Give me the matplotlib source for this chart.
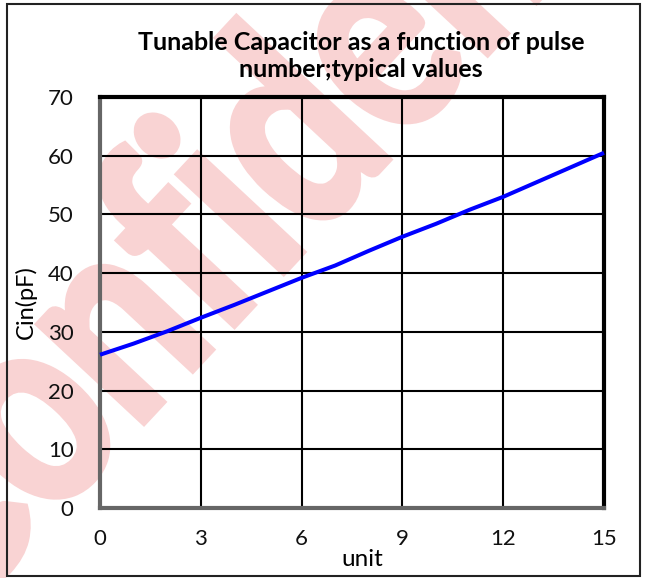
# -*- coding: utf-8 -*-
"""
Tunable capacitor vs pulse number, typical values.
"""

import matplotlib
matplotlib.use("Agg")
import matplotlib.pyplot as plt
from matplotlib.patches import Rectangle, PathPatch
from matplotlib.textpath import TextPath
from matplotlib.font_manager import FontProperties
from matplotlib.transforms import Affine2D, IdentityTransform

# data
pulse = [0, 1, 2, 3, 4, 5, 6, 7, 8, 9, 10, 11, 12, 13, 14, 15]
cin_pf = [26.1, 28.0, 30.1, 32.4, 34.6, 36.9, 39.2, 41.3, 43.8, 46.2,
          48.4, 50.8, 53.0, 55.5, 58.0, 60.5]
xticks = [0, 3, 6, 9, 12, 15]
yticks = [0, 10, 20, 30, 40, 50, 60, 70]

title = "Tunable Capacitor as a function of pulse\nnumber;typical values"
watermark = "Confidential"

plt.rcParams["font.family"] = ["Lato", "DejaVu Sans"]

fig = plt.figure(figsize=(6.47, 5.78), dpi=100)
ax = fig.add_axes([100/647, 1-508/578, 504/647, 411/578])
ax.patch.set_alpha(0)

# faint watermark behind everything (squeezed a bit, like a narrow bold face)
wm_col = "#f9d3d3"
tp = TextPath((0, 0), watermark, size=280,
              prop=FontProperties(family="Lato", weight="bold"))
ext = tp.get_extents()
cx, cy = (ext.x0 + ext.x1) / 2, (ext.y0 + ext.y1) / 2
tr = Affine2D().translate(-cx, -cy).scale(0.79, 1).rotate_deg(47).translate(283, 578 - 122)
fig.patches.append(PathPatch(tr.transform_path(tp), transform=IdentityTransform(),
                             fc=wm_col, ec=wm_col, lw=5, zorder=-1))

ax.plot(pulse, cin_pf, color="#0000ff", lw=2.9, zorder=3, clip_on=False,
        solid_capstyle="butt")

ax.set_xlim(0, 15)
ax.set_ylim(0, 70)
ax.set_xticks(xticks)
ax.set_yticks(yticks)
ax.grid(True, color="black", lw=1.5)
ax.set_axisbelow(True)
ax.tick_params(length=0, labelsize=16, colors="#111111")
ax.tick_params(axis="x", pad=15)
ax.tick_params(axis="y", pad=19)

for s in ["top", "right"]:
    ax.spines[s].set_linewidth(3)
    ax.spines[s].set_color("black")
for s in ["left", "bottom"]:
    ax.spines[s].set_linewidth(3)
    ax.spines[s].set_color("#666666")

ax.set_xlabel("unit", fontsize=17.5, va="center")
ax.xaxis.set_label_coords(0.52, -0.126)
ax.set_ylabel("Cin(pF)", fontsize=17, va="center")
ax.yaxis.set_label_coords(-0.147, 0.5)

fig.text(361/647, 1-56/578, title, ha="center", va="center",
         fontsize=18, fontweight="bold", linespacing=1.2)

# outer frame
fig.patches.append(Rectangle((7/647, 2/578), 633/647, 572/578,
                             transform=fig.transFigure, fill=False,
                             edgecolor="#222222", lw=1.5))

fig.savefig("out.png", dpi=100)
